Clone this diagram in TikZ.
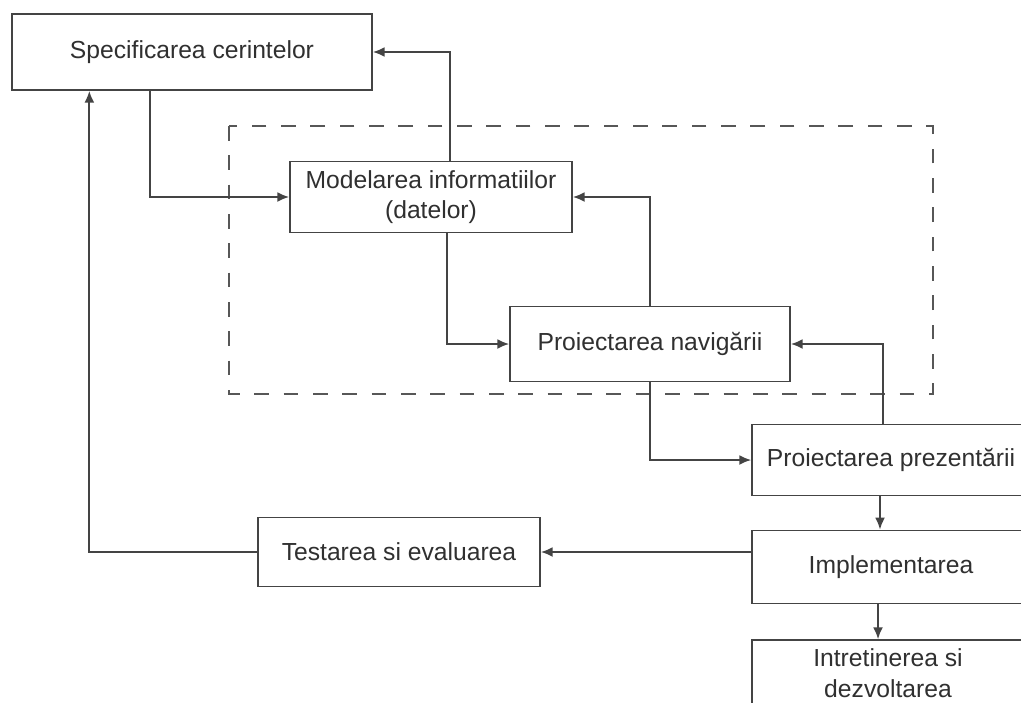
\documentclass[tikz,border=0pt]{standalone}
\usepackage{fontspec}
\setmainfont{Liberation Sans}
\usetikzlibrary{arrows.meta}
\definecolor{ink}{HTML}{444444}
\definecolor{txt}{HTML}{303030}
\tikzset{
  box/.style={draw=ink, line width=1pt, fill=white, text=txt, align=center,
    inner sep=0pt, font=\fontsize{18.5}{22}\selectfont},
  lbl/.style={text=txt, align=center, inner sep=0pt, font=\fontsize{18.5}{23}\selectfont},
  arr/.style={draw=ink, line width=1.6pt, -{Latex[length=9pt,width=7.5pt]}},
  frame/.style={draw=ink!90, line width=1.4pt, dash pattern=on 11pt off 11pt}
}
\begin{document}
\begin{tikzpicture}[x=0.75pt,y=-0.75pt]
\useasboundingbox (0,0) rectangle (1021,703);
\begin{scope}
\clip (0,0) rectangle (1021,703);
% dashed frame
\draw[frame] (229,126) rectangle (933,394);
% nodes
\node[box, minimum width=270pt, minimum height=57pt] (spec) at (192,52) {Specificarea cerintelor};
\node[box, minimum width=211.5pt, minimum height=53pt] (model) at (431,197) {Modelarea informatiilor\\(datelor)};
\node[box, minimum width=210pt, minimum height=56pt] (nav) at (650,344) {Proiectarea navigării};
\node[box, minimum width=208.5pt, minimum height=53pt] (prez) at (891,460) {Proiectarea prezentării};
\node[box, minimum width=208.5pt, minimum height=55pt] (impl) at (891,567) {Implementarea};
\node[box, minimum width=208.5pt, minimum height=60pt] (intr) at (891,680) {};
\node[lbl] (intrtxt) at (888,673) {Intretinerea si\\dezvoltarea};
\node[box, minimum width=211.5pt, minimum height=52pt] (test) at (399,552) {Testarea si evaluarea};
% connectors
\draw[arr] ([xshift=-31.5pt]spec.south) |- (model.west);
\draw[arr] ([xshift=14.25pt]model.north) |- (spec.east);
\draw[arr] ([xshift=12pt]model.south) |- (nav.west);
\draw[arr] (nav.north) |- (model.east);
\draw[arr] (nav.south) |- (prez.west);
\draw[arr] ([xshift=-6pt]prez.north) |- (nav.east);
\draw[arr] ([xshift=-8.25pt]prez.south) -- ([xshift=-8.25pt]impl.north);
\draw[arr] ([xshift=-9.75pt]impl.south) -- ([xshift=-9.75pt]intr.north);
\draw[arr] (impl.west |- test.east) -- (test.east);
\draw[arr] (test.west) -| ([xshift=-77pt]spec.south);
\end{scope}
\end{tikzpicture}
\end{document}
